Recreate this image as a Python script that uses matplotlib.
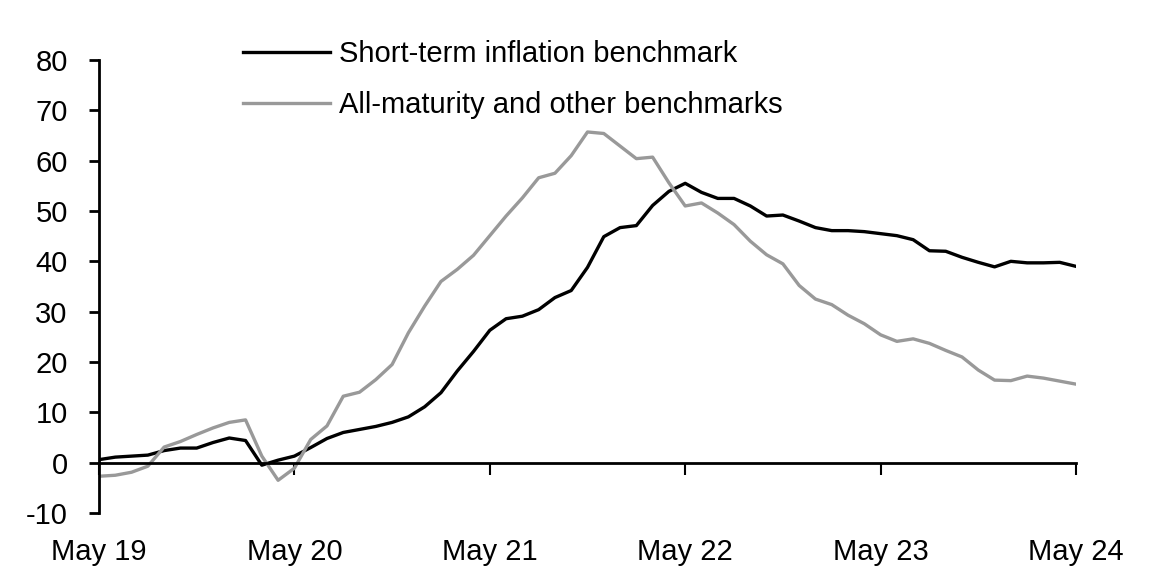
import numpy as np
import matplotlib
matplotlib.use("Agg")
import matplotlib.pyplot as plt

plt.rcParams['font.family'] = ['Liberation Sans', 'DejaVu Sans']
plt.rcParams['axes.unicode_minus'] = False

# monthly, May 19 .. May 24
short_term = [0.6, 1.1, 1.3, 1.5, 2.4, 2.9, 2.9, 4.0, 4.9, 4.4, -0.5, 0.5,
              1.3, 3.0, 4.8, 6.0, 6.6, 7.2, 8.0, 9.1, 11.1, 13.9, 18.2, 22.1,
              26.3, 28.6, 29.1, 30.4, 32.8, 34.2, 38.8, 44.9, 46.7, 47.1, 51.1, 53.9,
              55.5, 53.7, 52.5, 52.5, 51.0, 49.0, 49.2, 48.0, 46.7, 46.1, 46.1, 45.9,
              45.5, 45.1, 44.3, 42.1, 42.0, 40.8, 39.8, 38.9, 40.0, 39.7, 39.7, 39.8,
              39.0]
all_maturity = [-2.7, -2.5, -1.9, -0.7, 3.1, 4.2, 5.6, 6.9, 8.0, 8.5, 1.3, -3.5,
                -1.1, 4.6, 7.3, 13.2, 14.0, 16.5, 19.5, 25.8, 31.1, 36.0, 38.4, 41.2,
                45.1, 49.0, 52.6, 56.6, 57.5, 61.0, 65.7, 65.4, 62.9, 60.4, 60.7, 55.6,
                51.0, 51.6, 49.6, 47.3, 44.0, 41.3, 39.5, 35.2, 32.5, 31.4, 29.3, 27.6,
                25.4, 24.1, 24.6, 23.7, 22.3, 21.0, 18.4, 16.4, 16.3, 17.2, 16.8, 16.2,
                15.6]
tick_labels = ['May 19', 'May 20', 'May 21', 'May 22', 'May 23', 'May 24']

months = np.arange(len(short_term))

fig = plt.figure(figsize=(11.52, 5.83), dpi=100)
ax = fig.add_axes([99/1152, 1 - 513/583, (1076 - 99)/1152, (513 - 60)/583])

ax.plot(months, short_term, color='black', lw=2.4, label='Short-term inflation benchmark')
ax.plot(months, all_maturity, color='#999999', lw=2.4, label='All-maturity and other benchmarks')

ax.set_xlim(0, 60)
ax.set_ylim(-10, 80)
ax.set_yticks(np.arange(-10, 81, 10))
ax.set_xticks(np.arange(0, 61, 12))
ax.set_xticklabels(tick_labels)

for s in ['top', 'right']:
    ax.spines[s].set_visible(False)
ax.spines['bottom'].set_position(('data', 0))
ax.spines['left'].set_linewidth(2)
ax.spines['bottom'].set_linewidth(2)
ax.spines['left'].set_zorder(5)

ax.tick_params(axis='y', direction='out', length=7.5, width=2, pad=15, labelsize=21)
ax.tick_params(axis='x', direction='out', length=8.5, width=1.5, pad=46, labelsize=21)

ax.legend(loc='upper left', bbox_to_anchor=(243/1152, 1 - 40/583),
          bbox_transform=fig.transFigure, frameon=False, fontsize=21,
          handlelength=2.98, handletextpad=0.3, labelspacing=0.78,
          borderpad=0, borderaxespad=0)

plt.savefig('out.png', dpi=100)
